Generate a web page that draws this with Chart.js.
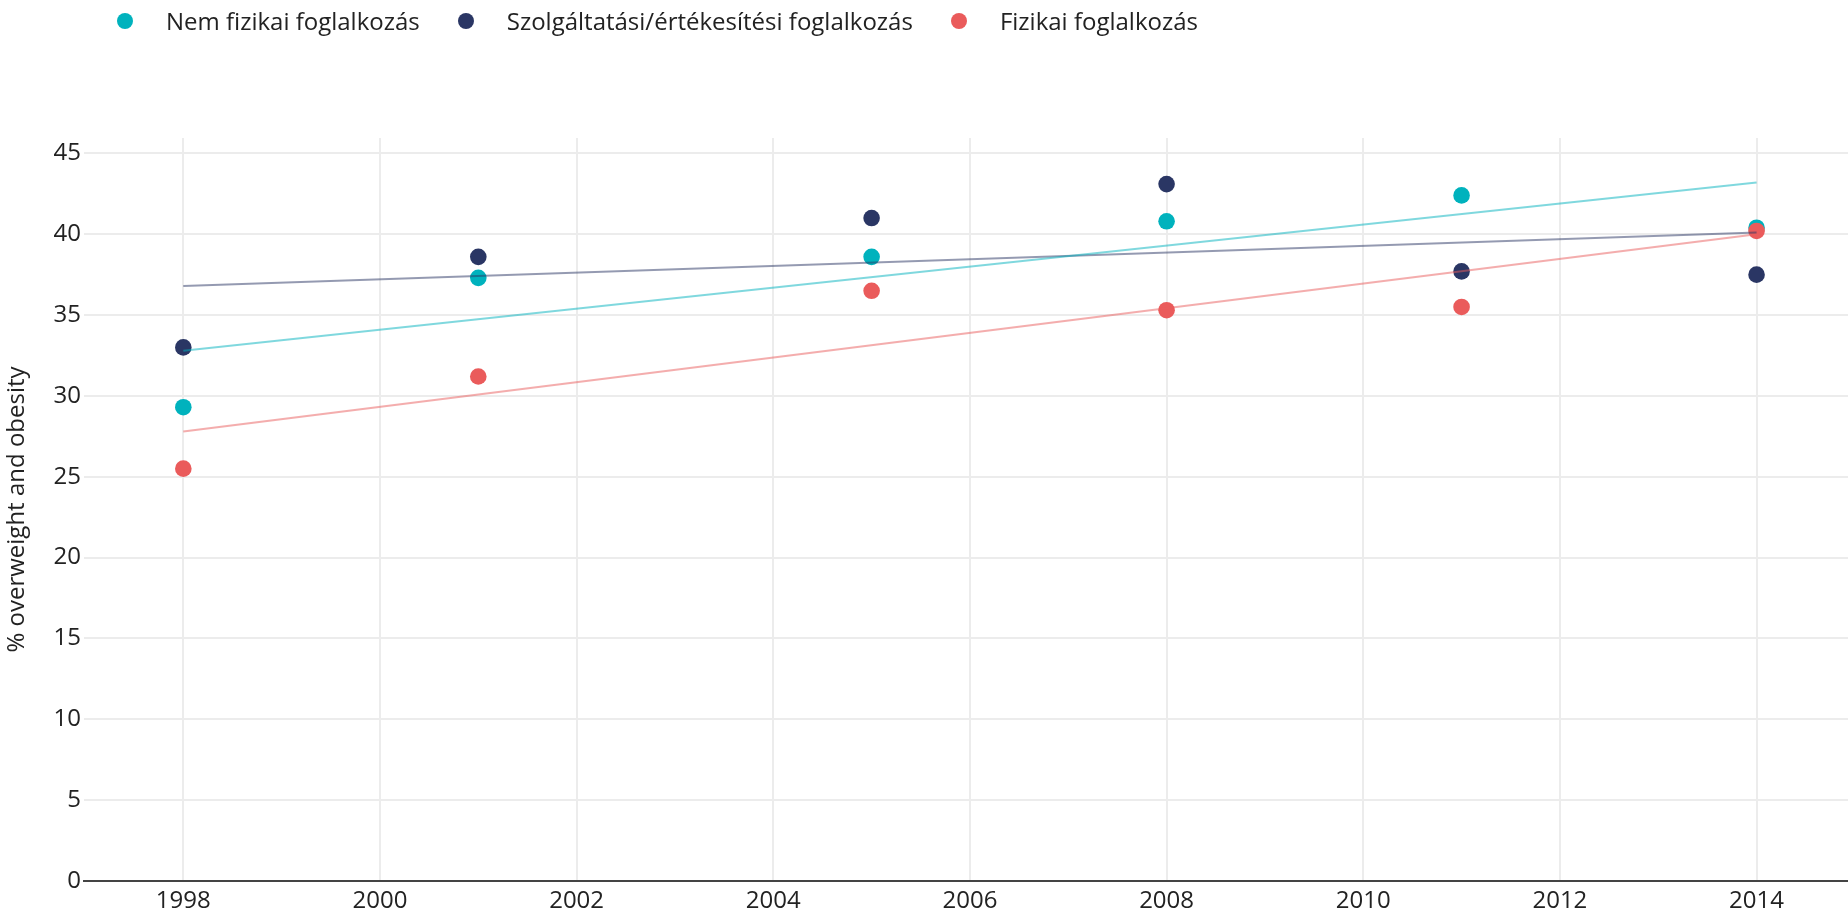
<!DOCTYPE html>
<html>
<head>
<meta charset="utf-8">
<title>% overweight and obesity</title>
<script src="https://cdn.jsdelivr.net/npm/chart.js@4.4.1/dist/chart.umd.min.js"></script>
<style>
    html, body { margin: 0; padding: 0; background: #fff; overflow: hidden; }
    #wrap { position: relative; width: 1848px; height: 922px; }
    #chart { display: block; }
    #legend { position: absolute; left: 117px; top: 4px; display: flex; align-items: center;
              font-family: 'Open Sans', sans-serif; font-size: 24px; color: #222; white-space: nowrap; }
    .item { display: flex; align-items: center; margin-right: 38px; }
    .dot { width: 16px; height: 16px; border-radius: 50%; margin-right: 33px; }
</style>
</head>
<body>
<div id="wrap">
    <div id="legend"></div>
    <canvas id="chart" width="1848" height="922"></canvas>
</div>
<script>
// felmérési évek és a három foglalkozási csoport értékei (%)
var years = [1998, 2001, 2005, 2008, 2011, 2014];
var nemFizikai = [29.3, 37.3, 38.6, 40.8, 42.4, 40.4];
var szolgaltatasi = [33.0, 38.6, 41.0, 43.1, 37.7, 37.5];
var fizikai = [25.5, 31.2, 36.5, 35.3, 35.5, 40.2];

// trendvonalak végpontjai (leolvasva)
var trendYears = [1998, 2014];
var nemFizikaiTrend = [32.8, 43.2];
var szolgaltatasiTrend = [36.8, 40.1];
var fizikaiTrend = [27.8, 40.0];

var xTicks = [1998, 2000, 2002, 2004, 2006, 2008, 2010, 2012, 2014];
var yTicks = [0, 5, 10, 15, 20, 25, 30, 35, 40, 45];

var seriesNames = ['Nem fizikai foglalkozás', 'Szolgáltatási/értékesítési foglalkozás', 'Fizikai foglalkozás'];
var seriesColors = ['#00b2bd', '#2a3664', '#ea5b5b'];
var trendColors = ['rgba(0,178,189,0.5)', 'rgba(42,54,100,0.5)', 'rgba(234,91,91,0.5)'];

function pts(xs, ys) { return xs.map(function(x, i) { return { x: x, y: ys[i] }; }); }

document.addEventListener('DOMContentLoaded', function() {
    var legend = document.getElementById('legend');
    var html = '';
    seriesNames.forEach(function(n, i) {
        html += '<div class="item"><span class="dot" style="background:' + seriesColors[i] + '"></span><span>' + n + '</span></div>';
    });
    legend.innerHTML = html;

    var seriesData = [nemFizikai, szolgaltatasi, fizikai];
    var trendData = [nemFizikaiTrend, szolgaltatasiTrend, fizikaiTrend];
    var datasets = [];
    trendData.forEach(function(t, i) {
        datasets.push({
            label: seriesNames[i] + ' trend', data: pts(trendYears, t), showLine: true,
            borderColor: trendColors[i], borderWidth: 2, pointRadius: 0, fill: false, order: i
        });
    });
    // a későbbi sorozat kerül felülre
    seriesData.forEach(function(s, i) {
        datasets.push({
            label: seriesNames[i], data: pts(years, s),
            backgroundColor: seriesColors[i], borderColor: seriesColors[i], borderWidth: 0,
            pointRadius: 8.3, order: 10 - i
        });
    });

    var tickFont = { family: 'Open Sans', size: 24 };
    new Chart(document.getElementById('chart').getContext('2d'), {
        type: 'scatter',
        data: { datasets: datasets },
        options: {
            responsive: false, animation: false,
            layout: { autoPadding: false, padding: { top: 138, left: 0, right: 0, bottom: 0 } },
            plugins: { legend: { display: false }, tooltip: { enabled: false } },
            scales: {
                x: {
                    type: 'linear', min: 1996.99, max: 2014.93,
                    afterBuildTicks: function(a) { a.ticks = xTicks.map(function(v) { return { value: v }; }); },
                    afterFit: function(a) { a.height = 41; a.paddingLeft = 0; a.paddingRight = 0; },
                    grid: { color: '#ececec', lineWidth: 2, drawTicks: false },
                    border: { display: true, color: '#444', width: 2 },
                    ticks: { font: tickFont, color: '#222', padding: 6, maxRotation: 0, autoSkip: false,
                             callback: function(v) { return String(v); } }
                },
                y: {
                    min: 0, max: 45.95,
                    afterBuildTicks: function(a) { a.ticks = yTicks.map(function(v) { return { value: v }; }); },
                    afterFit: function(a) { a.width = 84; },
                    grid: { color: '#ececec', lineWidth: 2, drawTicks: false },
                    border: { display: false },
                    title: { display: true, text: '% overweight and obesity', font: tickFont, color: '#222', padding: { top: 3, bottom: 0 } },
                    ticks: { font: tickFont, color: '#222', padding: 3 }
                }
            }
        }
    });
});
</script>
</body>
</html>
